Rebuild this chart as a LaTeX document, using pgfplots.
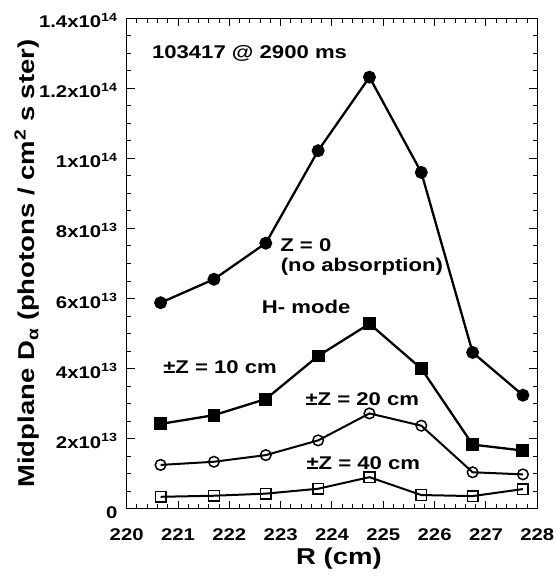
\documentclass[border=0pt]{standalone}
\usepackage{fontspec}
\setmainfont{Liberation Sans}[FakeStretch=1.2]
\usepackage{pgfplots}
\pgfplotsset{compat=1.18}

% series: Z = 0, +-Z = 10, 20, 40 cm (y in units of 1e13)
\pgfplotsset{
  dline/.style={black, line width=2.3bp},
}

\begin{document}
\begin{tikzpicture}
\useasboundingbox (-126.7bp,-72.3bp) rectangle (429.3bp,508.7bp);
\begin{axis}[
  at={(0,0)}, anchor=south west,
  scale only axis,
  width=410.6bp, height=490.4bp,
  xmin=220, xmax=228,
  ymin=0, ymax=14,
  xtick={220,221,...,228},
  ytick={0,2,...,14},
  yticklabels={0,
    2x10\textsuperscript{13},
    4x10\textsuperscript{13},
    6x10\textsuperscript{13},
    8x10\textsuperscript{13},
    1x10\textsuperscript{14},
    1.2x10\textsuperscript{14},
    1.4x10\textsuperscript{14}},
  /pgf/number format/assume math mode=true,
  /pgf/number format/1000 sep={},
  minor x tick num=4,
  minor y tick num=3,
  tick align=inside,
  tick pos=both,
  major tick length=8bp,
  minor tick length=4.5bp,
  axis line style={line width=1.3bp},
  every tick/.style={black, line width=1bp},
  ticklabel style={font=\fontsize{17}{19}\selectfont\bfseries, inner sep=0pt},
  yticklabel style={anchor=base east, xshift=-9bp, yshift=-9.5bp},
  xticklabel style={anchor=base, yshift=-32bp},
  xlabel={R (cm)},
  ylabel={Midplane D\textsubscript{α} (photons / cm\textsuperscript{2} s ster)},
  every axis x label/.style={at={(axis description cs:0.5,0)}, anchor=center, yshift=-50bp, xshift=7bp, font=\fontsize{23}{25}\selectfont\bfseries},
  every axis y label/.style={at={(axis description cs:0,0.5)}, anchor=center, xshift=-99.7bp, rotate=90, font=\fontsize{23}{25}\selectfont\bfseries},
  clip=false,
]

% Z = 0 (no absorption)
\addplot[dline, mark=*, mark size=5.3bp, mark options={fill=black}] coordinates {
  (220.66,5.88) (221.70,6.55) (222.71,7.58) (223.73,10.22)
  (224.73,12.32) (225.74,9.60) (226.74,4.46) (227.72,3.24)
};

% +-Z = 10 cm
\addplot[dline, mark=square*, mark size=5.3bp, mark options={fill=black}] coordinates {
  (220.66,2.42) (221.70,2.67) (222.71,3.13) (223.73,4.36)
  (224.73,5.28) (225.74,4.00) (226.74,1.83) (227.72,1.66)
};

% +-Z = 20 cm
\addplot[black, line width=2bp, mark=o, mark size=5.3bp, mark options={fill=white, line width=1.5bp}] coordinates {
  (220.66,1.25) (221.70,1.34) (222.71,1.53) (223.73,1.95)
  (224.73,2.72) (225.74,2.37) (226.74,1.04) (227.72,0.98)
};

% +-Z = 40 cm
\addplot[black, line width=2bp, mark=square, mark size=5.3bp, mark options={fill=white, line width=1.5bp}] coordinates {
  (220.66,0.34) (221.70,0.37) (222.71,0.43) (223.73,0.57)
  (224.73,0.90) (225.74,0.39) (226.74,0.36) (227.72,0.56)
};

\begin{scope}[every node/.style={anchor=west, inner sep=0pt, font=\fontsize{18.5}{20}\selectfont\bfseries}]
\node at (axis cs:220.49,13.0) {103417 @ 2900 ms};
\node at (axis cs:222.99,7.53) {Z = 0};
\node at (axis cs:223.00,6.91) {(no absorption)};
\node at (axis cs:222.63,5.76) {H- mode};
\node at (axis cs:220.71,4.05) {±Z = 10 cm};
\node at (axis cs:223.48,3.12) {±Z = 20 cm};
\node at (axis cs:223.50,1.30) {±Z = 40 cm};
\end{scope}
\end{axis}
\end{tikzpicture}
\end{document}
